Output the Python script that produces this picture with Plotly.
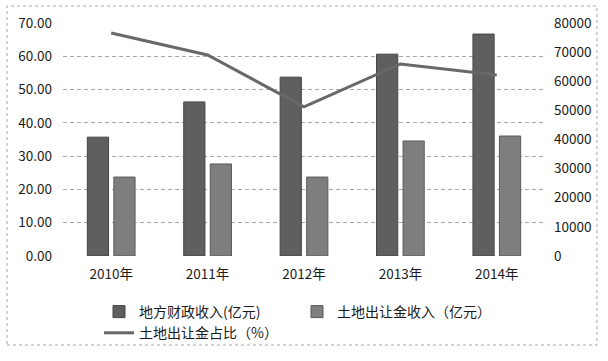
import plotly.graph_objects as go

years = ["2010年", "2011年", "2012年", "2013年", "2014年"]
fiscal_income = [40800, 52900, 61400, 69300, 76200]      # 地方财政收入(亿元)
land_income = [27100, 31600, 27100, 39500, 41200]        # 土地出让金收入（亿元）
land_ratio = [67.0, 60.4, 44.8, 57.7, 54.4]              # 土地出让金占比（%）

left_ticks = [0, 10, 20, 30, 40, 50, 60, 70]
right_ticks = [0, 10000, 20000, 30000, 40000, 50000, 60000, 70000, 80000]

FONT = "Noto Sans CJK SC, Noto Sans, sans-serif"

fig = go.Figure()
fig.add_trace(go.Bar(x=years, y=fiscal_income, name="地方财政收入(亿元)",
                     marker=dict(color="#5f5f5f", line=dict(color="#444", width=1)),
                     yaxis="y"))
fig.add_trace(go.Bar(x=years, y=land_income, name="土地出让金收入（亿元）",
                     marker=dict(color="#7e7e7e", line=dict(color="#5a5a5a", width=1)),
                     yaxis="y"))
fig.add_trace(go.Scatter(x=years, y=land_ratio, name="土地出让金占比（%）",
                         mode="lines", line=dict(color="#686868", width=3),
                         yaxis="y2"))

W, H = 608, 361
L, R, T, B = 63, 63, 23, 105
pw, ph = W - L - R, H - T - B

def px_x(p):
    return (p - L) / pw

def px_y(p):
    return (H - B - p) / ph

fig.update_layout(
    width=W, height=H,
    margin=dict(l=L, r=R, t=T, b=B),
    paper_bgcolor="white", plot_bgcolor="white",
    font=dict(family=FONT, size=13.5, color="#1a1a1a"),
    barmode="group", bargap=0.45, bargroupgap=0.2,
    xaxis=dict(showline=False, ticks="", showgrid=False,
               tickfont=dict(size=13.5, color="#1a1a1a"), ticklabelstandoff=8),
    yaxis=dict(side="right", range=[0, 80000], tickvals=right_ticks,
               tickformat="d",
               showgrid=False, zeroline=False, ticks="",
               tickfont=dict(size=13.5, color="#1a1a1a"), ticklabelstandoff=8),
    yaxis2=dict(side="left", overlaying="y", range=[0, 70], tickvals=left_ticks,
                tickformat=".2f", showgrid=True, gridcolor="#a8a8a8",
                griddash="4px,3px", gridwidth=1, zeroline=False, ticks="",
                tickfont=dict(size=13.5, color="#1a1a1a"), ticklabelstandoff=10),
    legend=dict(orientation="h", x=px_x(99), xanchor="left", y=px_y(296),
                yanchor="top", entrywidth=153, font=dict(size=14, color="#1a1a1a"),
                traceorder="normal", bgcolor="rgba(0,0,0,0)"),
    showlegend=True,
    shapes=[dict(type="rect", xref="paper", yref="paper",
                 x0=px_x(7), x1=px_x(597), y0=px_y(345), y1=px_y(6),
                 line=dict(color="#a8a8a8", width=1, dash="dot"), layer="below")],
)

fig.write_html("out.html",
               config={"displayModeBar": False},
               post_script="document.body.style.margin='0';document.body.style.overflow='hidden';")
